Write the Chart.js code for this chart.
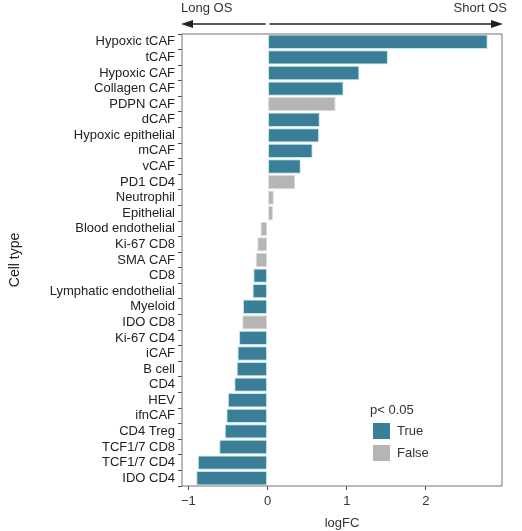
<!DOCTYPE html>
<html>
<head>
<meta charset="utf-8">
<script src="https://cdn.jsdelivr.net/npm/chart.js@4"></script>
<style>
  html, body { margin: 0; padding: 0; background: #fff; }
  #wrap { width: 522px; height: 531px; }
</style>
</head>
<body>
<div id="wrap"><canvas id="logfcChart"></canvas></div>
<script>
// cell types, top to bottom
const cellTypes = [
    'Hypoxic tCAF', 'tCAF', 'Hypoxic CAF', 'Collagen CAF', 'PDPN CAF', 'dCAF',
    'Hypoxic epithelial', 'mCAF', 'vCAF', 'PD1 CD4', 'Neutrophil', 'Epithelial',
    'Blood endothelial', 'Ki-67 CD8', 'SMA CAF', 'CD8', 'Lymphatic endothelial',
    'Myeloid', 'IDO CD8', 'Ki-67 CD4', 'iCAF', 'B cell', 'CD4', 'HEV', 'ifnCAF',
    'CD4 Treg', 'TCF1/7 CD8', 'TCF1/7 CD4', 'IDO CD4'
];
const logFC = [
    2.78, 1.52, 1.16, 0.96, 0.86, 0.66,
    0.65, 0.57, 0.42, 0.35, 0.08, 0.07,
    -0.09, -0.13, -0.15, -0.18, -0.19,
    -0.31, -0.32, -0.36, -0.38, -0.39, -0.42, -0.50, -0.52,
    -0.54, -0.61, -0.88, -0.90
];
const significant = [
    true, true, true, true, false, true,
    true, true, true, false, false, false,
    false, false, false, true, true,
    true, false, true, true, true, true, true, true,
    true, true, true, true
];
const xTicks = [-1, 0, 1, 2];
const xTickLabels = ['\u22121', '0', '1', '2'];
const legendTitle = 'p< 0.05';
const legendLabels = ['True', 'False'];

const TEAL = '#3a7f97';
const GREY = '#b5b5b5';
const FONT = '"Liberation Sans", Arial, sans-serif';

// box round the plot, OS arrows on top, legend inside
const extras = {
    id: 'extras',
    afterDraw(chart) {
        const ctx = chart.ctx;
        const a = chart.chartArea;
        const x0 = chart.scales.x.getPixelForValue(0);
        ctx.save();
        ctx.strokeStyle = '#8a8a8a';
        ctx.lineWidth = 1.2;
        ctx.strokeRect(a.left, a.top, a.right - a.left, a.bottom - a.top);

        // arrows
        const ay = 24;
        ctx.strokeStyle = '#222';
        ctx.fillStyle = '#222';
        ctx.lineWidth = 1.3;
        ctx.beginPath();
        ctx.moveTo(a.left + 4, ay); ctx.lineTo(x0 - 2, ay);
        ctx.moveTo(x0 + 2, ay); ctx.lineTo(a.right - 4, ay);
        ctx.stroke();
        ctx.beginPath();
        ctx.moveTo(a.left - 1, ay); ctx.lineTo(a.left + 11, ay - 4); ctx.lineTo(a.left + 11, ay + 4);
        ctx.closePath(); ctx.fill();
        ctx.beginPath();
        ctx.moveTo(a.right + 1, ay); ctx.lineTo(a.right - 11, ay - 4); ctx.lineTo(a.right - 11, ay + 4);
        ctx.closePath(); ctx.fill();

        ctx.font = '13px ' + FONT;
        ctx.fillStyle = '#333';
        ctx.textBaseline = 'middle';
        ctx.textAlign = 'left';
        ctx.fillText('Long OS', a.left - 1, 8);
        ctx.textAlign = 'right';
        ctx.fillText('Short OS', a.right + 5, 8);

        // legend
        const lx = 370, ly = 410;
        ctx.textAlign = 'left';
        ctx.fillText(legendTitle, lx, ly);
        [TEAL, GREY].forEach(function(c, i) {
            const by = ly + 13 + i * 22;
            ctx.fillStyle = c;
            ctx.fillRect(lx + 3, by, 17, 16);
            ctx.fillStyle = '#333';
            ctx.fillText(legendLabels[i], lx + 27, by + 8);
        });
        ctx.restore();
    }
};

new Chart(document.getElementById('logfcChart'), {
    type: 'bar',
    data: {
        labels: cellTypes,
        datasets: [{
            label: 'logFC',
            data: logFC,
            backgroundColor: significant.map(s => s ? TEAL : GREY),
            borderColor: significant.map(s => s ? '#bfe5ee' : '#dcdcdc'),
            borderWidth: 1,
            borderSkipped: false,
            barPercentage: 0.92,
            categoryPercentage: 1.0
        }]
    },
    options: {
        indexAxis: 'y',
        responsive: true,
        maintainAspectRatio: false,
        animation: false,
        layout: { padding: { left: 0, right: 20, top: 34, bottom: 0 } },
        plugins: {
            legend: { display: false },
            tooltip: { enabled: false }
        },
        scales: {
            x: {
                min: -1.08,
                max: 2.96,
                afterBuildTicks: function(scale) {
                    scale.ticks = xTicks.map(v => ({ value: v }));
                },
                afterFit: function(scale) { scale.height = 45; },
                grid: { drawOnChartArea: false, drawTicks: true, tickLength: 4, color: '#444' },
                border: { display: false },
                ticks: {
                    color: '#333',
                    font: { family: FONT, size: 13 },
                    padding: 4,
                    callback: function(value, i) { return xTickLabels[i]; }
                },
                title: {
                    display: true,
                    text: 'logFC',
                    color: '#333',
                    font: { family: FONT, size: 13 },
                    padding: { top: 1, bottom: 0 }
                }
            },
            y: {
                afterFit: function(scale) { scale.width = 182; },
                grid: { drawOnChartArea: false, drawTicks: true, tickLength: 4, color: '#444' },
                border: { display: false },
                ticks: {
                    color: '#222',
                    font: { family: FONT, size: 13 },
                    padding: 3,
                    autoSkip: false
                },
                title: {
                    display: true,
                    text: 'Cell type',
                    color: '#222',
                    font: { family: FONT, size: 14 },
                    padding: { top: 7, bottom: 0 }
                }
            }
        }
    },
    plugins: [extras]
});
</script>
</body>
</html>
